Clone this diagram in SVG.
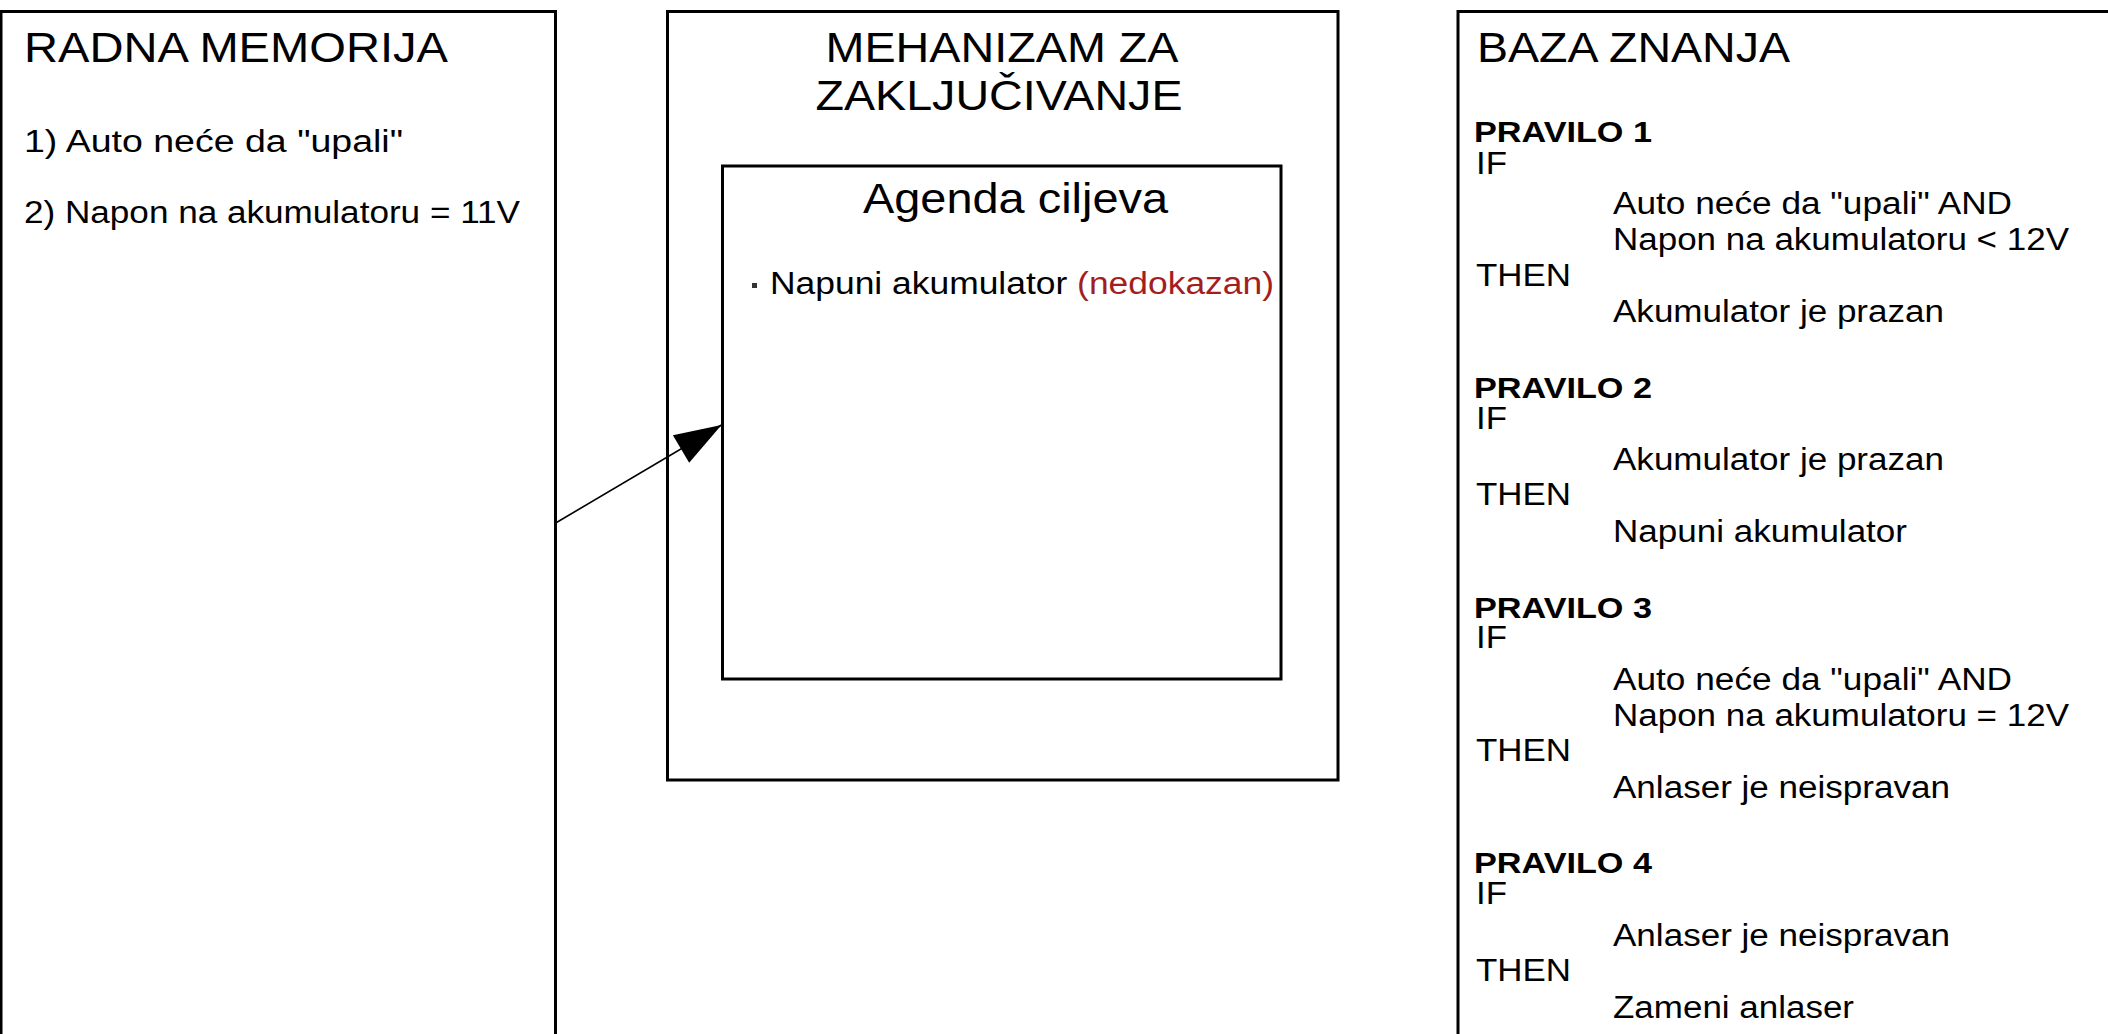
<svg xmlns="http://www.w3.org/2000/svg" width="2108" height="1034" viewBox="0 0 2108 1034">
<defs>
<style>
.box{fill:none;stroke:#000;stroke-width:3}
.t{font-family:"Liberation Sans",Arial,sans-serif;fill:#000}
.title{font-size:43px}
.txt{font-size:31px}
.rule{font-size:29px;font-weight:bold}
.red{fill:#a31f1f}
.conn{stroke:#000;stroke-width:1.6;fill:none}
</style>
<marker id="arrow" markerUnits="userSpaceOnUse" viewBox="-48 -18 50 36" refX="0" refY="0" markerWidth="50" markerHeight="36" orient="auto">
<path d="M0,0 L-47,-16 L-47,16 Z" fill="#000"/>
</marker>
</defs>
<rect width="2108" height="1034" fill="#fff"/>

<g id="radna-memorija">
<rect class="box" x="1" y="11.5" width="554.5" height="1040"/>
<text class="t title" x="24" y="62" textLength="424" lengthAdjust="spacingAndGlyphs">RADNA MEMORIJA</text>
<text class="t txt" x="24" y="152" textLength="379" lengthAdjust="spacingAndGlyphs">1) Auto neće da "upali"</text>
<text class="t txt" x="24" y="223" textLength="496" lengthAdjust="spacingAndGlyphs">2) Napon na akumulatoru = 11V</text>
</g>

<g id="mehanizam">
<rect class="box" x="667.5" y="11.5" width="670.5" height="768.5"/>
<text class="t title" x="1002" y="62" text-anchor="middle" textLength="353" lengthAdjust="spacingAndGlyphs">MEHANIZAM ZA</text>
<text class="t title" x="999" y="110" text-anchor="middle" textLength="367" lengthAdjust="spacingAndGlyphs">ZAKLJUČIVANJE</text>
</g>

<g id="agenda">
<rect class="box" x="722.5" y="166" width="558.5" height="513"/>
<text class="t title" x="863" y="213" textLength="305" lengthAdjust="spacingAndGlyphs">Agenda ciljeva</text>
<rect x="752" y="283" width="5" height="5" fill="#333"/>
<text class="t txt" x="770" y="294" textLength="504" lengthAdjust="spacingAndGlyphs">Napuni akumulator <tspan class="red">(nedokazan)</tspan></text>
</g>

<g id="baza-znanja">
<rect class="box" x="1458" y="11.5" width="700" height="1040"/>
<text class="t title" x="1477" y="62" textLength="313" lengthAdjust="spacingAndGlyphs">BAZA ZNANJA</text>

<text class="t rule" x="1474" y="142" textLength="178" lengthAdjust="spacingAndGlyphs">PRAVILO 1</text>
<text class="t txt" x="1476" y="174" textLength="31" lengthAdjust="spacingAndGlyphs">IF</text>
<text class="t txt" x="1613" y="214" textLength="399" lengthAdjust="spacingAndGlyphs">Auto neće da "upali" AND</text>
<text class="t txt" x="1613" y="250" textLength="456" lengthAdjust="spacingAndGlyphs">Napon na akumulatoru &lt; 12V</text>
<text class="t txt" x="1476" y="286" textLength="95" lengthAdjust="spacingAndGlyphs">THEN</text>
<text class="t txt" x="1613" y="322" textLength="331" lengthAdjust="spacingAndGlyphs">Akumulator je prazan</text>

<text class="t rule" x="1474" y="398" textLength="178" lengthAdjust="spacingAndGlyphs">PRAVILO 2</text>
<text class="t txt" x="1476" y="429" textLength="31" lengthAdjust="spacingAndGlyphs">IF</text>
<text class="t txt" x="1613" y="470" textLength="331" lengthAdjust="spacingAndGlyphs">Akumulator je prazan</text>
<text class="t txt" x="1476" y="505" textLength="95" lengthAdjust="spacingAndGlyphs">THEN</text>
<text class="t txt" x="1613" y="542" textLength="294" lengthAdjust="spacingAndGlyphs">Napuni akumulator</text>

<text class="t rule" x="1474" y="618" textLength="178" lengthAdjust="spacingAndGlyphs">PRAVILO 3</text>
<text class="t txt" x="1476" y="648" textLength="31" lengthAdjust="spacingAndGlyphs">IF</text>
<text class="t txt" x="1613" y="690" textLength="399" lengthAdjust="spacingAndGlyphs">Auto neće da "upali" AND</text>
<text class="t txt" x="1613" y="726" textLength="456" lengthAdjust="spacingAndGlyphs">Napon na akumulatoru = 12V</text>
<text class="t txt" x="1476" y="761" textLength="95" lengthAdjust="spacingAndGlyphs">THEN</text>
<text class="t txt" x="1613" y="798" textLength="337" lengthAdjust="spacingAndGlyphs">Anlaser je neispravan</text>

<text class="t rule" x="1474" y="873" textLength="178" lengthAdjust="spacingAndGlyphs">PRAVILO 4</text>
<text class="t txt" x="1476" y="904" textLength="31" lengthAdjust="spacingAndGlyphs">IF</text>
<text class="t txt" x="1613" y="946" textLength="337" lengthAdjust="spacingAndGlyphs">Anlaser je neispravan</text>
<text class="t txt" x="1476" y="981" textLength="95" lengthAdjust="spacingAndGlyphs">THEN</text>
<text class="t txt" x="1613" y="1018" textLength="241" lengthAdjust="spacingAndGlyphs">Zameni anlaser</text>
</g>

<g id="connectors">
<line class="conn" x1="556.5" y1="522.5" x2="721.5" y2="425" marker-end="url(#arrow)"/>
</g>
</svg>
